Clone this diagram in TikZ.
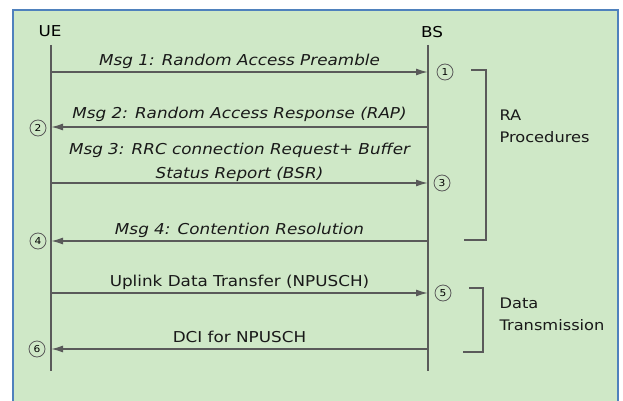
\documentclass[tikz,border=0pt]{standalone}
\usepackage{fontspec}
\setmainfont[FakeStretch=1.12]{DejaVu Sans}
\usetikzlibrary{arrows.meta,positioning,calc}
\definecolor{panelgreen}{HTML}{CFE8C7}
\definecolor{panelblue}{HTML}{4F81BD}
\definecolor{linegray}{HTML}{5A5A5A}
\tikzset{
	lifeline/.style={
		line width=1.5pt, draw=linegray
	},
	%
	msg/.style={
		-{Latex[length=12pt,width=7pt]}, line width=1.5pt, draw=linegray
	},
	%
	msgtext/.style={
		midway, above, inner sep=3pt, text=black!90,
		font=\fontsize{15}{24}\selectfont\itshape
	},
	%
	stepmark/.style={
		circle, draw=linegray, line width=0.8pt, fill=panelgreen, inner sep=0pt,
		minimum size=16pt, font=\fontsize{9.5}{9.5}\selectfont
	},
	%
	bracket/.style={
		line width=1.2pt, draw=linegray
	},
	%
	sidetext/.style={
		anchor=west, align=left, text=black!90,
		font=\fontsize{14.5}{22}\selectfont
	}
}

\begin{document}
\begin{tikzpicture}[x=1pt,y=-1pt]
    \useasboundingbox (0,0) rectangle (623,401);
    \draw[panelblue, line width=1.8pt, fill=panelgreen] (13,10) rectangle (618,410);
    \node(ue)[font=\fontsize{15}{15}\selectfont] at (50,31){UE};
    \node(bs)[font=\fontsize{15}{15}\selectfont] at (432,32){BS};
    \coordinate(ueend) at (51,371);
    \coordinate(bsend) at (428,371);
    \draw[lifeline] (51,45) -- (ueend);
    \draw[lifeline] (428,45) -- (bsend);
    % message end points on the two lifelines
    \coordinate(ue1) at (51,72);   \coordinate(bs1) at (428,72);
    \coordinate(ue2) at (51,127);  \coordinate(bs2) at (428,127);
    \coordinate(ue3) at (51,183);  \coordinate(bs3) at (428,183);
    \coordinate(ue4) at (51,241);  \coordinate(bs4) at (428,241);
    \coordinate(ue5) at (51,293);  \coordinate(bs5) at (428,293);
    \coordinate(ue6) at (51,349);  \coordinate(bs6) at (428,349);
    \draw[msg] (ue1) -- node[msgtext] {Msg 1: Random Access Preamble} (bs1);
    \draw[msg] (bs2) -- node[msgtext, inner sep=5pt] {Msg 2: Random Access Response (RAP)} (ue2);
    \draw[msg] (ue3) -- node[msgtext, align=center, inner sep=1pt] {Msg 3: RRC connection Request+ Buffer\\Status Report (BSR)} (bs3);
    \draw[msg] (bs4) -- node[msgtext] {Msg 4: Contention Resolution} (ue4);
    \draw[msg] (ue5) -- node[msgtext, font=\fontsize{15}{24}\selectfont] {Uplink Data Transfer (NPUSCH)} (bs5);
    \draw[msg] (bs6) -- node[msgtext, inner sep=6pt, font=\fontsize{15}{24}\selectfont] {DCI for NPUSCH} (ue6);
    \node(s1)[stepmark] at (445,72){1};
    \node(s2)[stepmark] at (38,128){2};
    \node(s3)[stepmark] at (442,183){3};
    \node(s4)[stepmark] at (38,241){4};
    \node(s5)[stepmark] at (443,293){5};
    \node(s6)[stepmark] at (37,349){6};
    \draw[bracket] (471,70) -- (486,70) -- (486,240) -- (464,240);
    \draw[bracket] (469,288) -- (483,288) -- (483,352) -- (463,352);
    \node(ra)[sidetext] at (496,126){RA\\Procedures};
    \node(dt)[sidetext] at (496,314){Data\\Transmission};
\end{tikzpicture}
\end{document}
